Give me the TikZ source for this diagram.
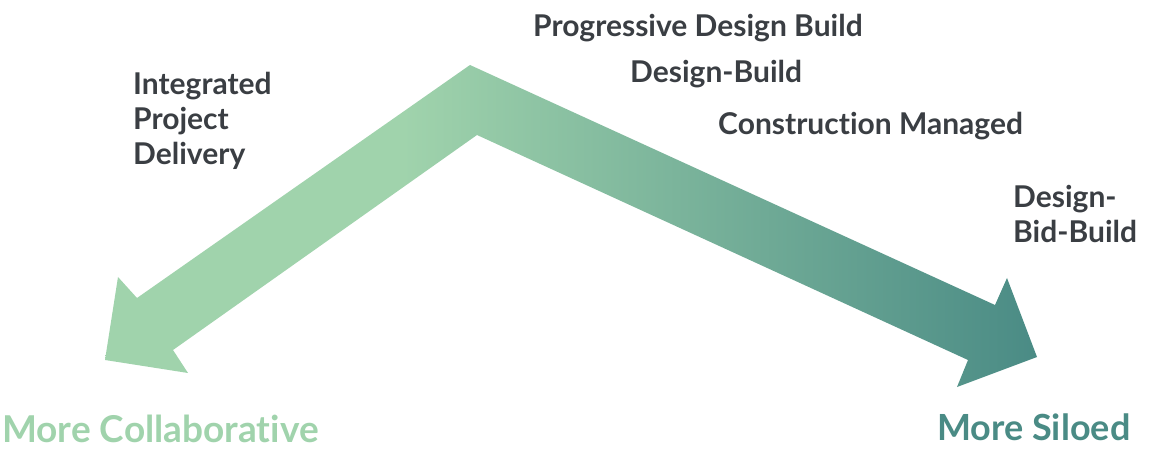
\documentclass[tikz,border=0pt]{standalone}
\usepackage{fontspec}
\setmainfont{Lato}[Ligatures=NoCommon]
\definecolor{lightgreen}{RGB}{160,211,172}
\definecolor{darkteal}{RGB}{74,139,133}
\definecolor{labeltext}{RGB}{58,62,67}
\pgfdeclarehorizontalshading{arrowshade}{100bp}{color(0bp)=(lightgreen); color(25bp)=(lightgreen); color(41bp)=(lightgreen); color(75bp)=(darkteal); color(100bp)=(darkteal)}
\tikzset{
  lbl/.style={anchor=base west, inner sep=0pt, text=labeltext, font=\fontsize{30}{35}\selectfont\bfseries},
  endlbl/.style={anchor=base west, inner sep=0pt, font=\fontsize{37}{44}\selectfont\bfseries},
}
\begin{document}
\begin{tikzpicture}[x=1pt,y=-1pt]
\useasboundingbox (0,0) rectangle (1149,454);
\shade[shading=arrowshade]
  (470,65) -- (995,305) -- (1007,278) -- (1037,357) -- (957,387) -- (968,360)
  -- (477,135) -- (173,350) -- (188,373) -- (105,360) -- (118,277) -- (137,298) -- cycle;
\node[lbl] (pdb) at (533,37) {Progressive Design Build};
\node[lbl] (db) at (630,83) {Design-Build};
\node[lbl] (cm) at (718,135) {Construction Managed};
\node[lbl] (dbb1) at (1013,208) {Design-};
\node[lbl] (dbb2) at (1013,243) {Bid-Build};
\node[lbl] (ipd1) at (133,95) {Integrated};
\node[lbl] (ipd2) at (133,130) {Project};
\node[lbl] (ipd3) at (133,165) {Delivery};
\node[endlbl, text=lightgreen] (collab) at (2,442) {More Collaborative};
\node[endlbl, text=darkteal, font=\fontsize{36}{44}\selectfont\bfseries] (siloed) at (937,440) {More Siloed};
\end{tikzpicture}
\end{document}
